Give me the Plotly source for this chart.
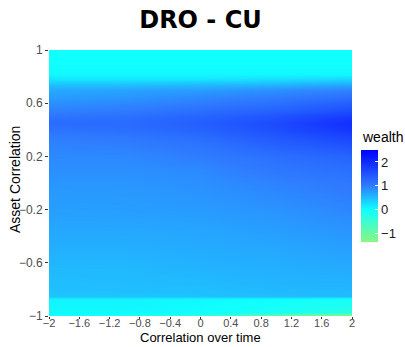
import plotly.graph_objects as go

# x positions (Correlation over time) of the value columns
x_vals = [-2.0, -1.0, 0.0, 1.0, 2.0]
# y positions (Asset Correlation) of the value rows, bottom to top
y_vals = [-1.0, -0.99, -0.97, -0.87, -0.85, -0.8, -0.6, -0.4, -0.2, 0.0, 0.1, 0.2,
          0.3, 0.35, 0.4, 0.45, 0.5, 0.55, 0.6, 0.65, 0.7, 0.74, 0.78, 0.82, 0.9, 1.0]
# wealth values, one row per y value (bottom to top), columns follow x_vals
wealth = [
    [0.0, -0.15, -0.35, -0.85, -1.3],
    [0.0, -0.1, -0.3, -0.8, -1.25],
    [0.05, 0.05, 0.0, -0.1, -0.25],
    [0.08, 0.08, 0.05, 0.0, -0.08],
    [0.45, 0.45, 0.48, 0.5, 0.52],
    [0.48, 0.5, 0.5, 0.55, 0.55],
    [0.55, 0.55, 0.6, 0.62, 0.67],
    [0.65, 0.65, 0.67, 0.72, 0.78],
    [0.73, 0.74, 0.76, 0.82, 0.92],
    [0.8, 0.8, 0.85, 0.95, 1.05],
    [0.85, 0.85, 0.9, 1.05, 1.15],
    [0.9, 0.9, 1.0, 1.15, 1.3],
    [0.95, 1.0, 1.1, 1.35, 1.55],
    [1.0, 1.05, 1.2, 1.45, 1.7],
    [1.1, 1.15, 1.3, 1.55, 1.85],
    [1.2, 1.2, 1.35, 1.6, 1.95],
    [1.1, 1.15, 1.3, 1.5, 1.8],
    [0.95, 1.0, 1.15, 1.3, 1.55],
    [0.85, 0.9, 1.0, 1.15, 1.35],
    [0.75, 0.8, 0.9, 1.0, 1.15],
    [0.65, 0.7, 0.75, 0.85, 0.95],
    [0.5, 0.5, 0.55, 0.6, 0.7],
    [0.2, 0.2, 0.2, 0.25, 0.3],
    [0.05, 0.05, 0.05, 0.05, 0.05],
    [0.0, 0.0, 0.0, 0.0, 0.0],
    [0.0, 0.0, 0.0, 0.0, 0.0],
]
z_min, z_max = -1.35, 2.5
x_ticks = [-2, -1.6, -1.2, -0.8, -0.4, 0, 0.4, 0.8, 1.2, 1.6, 2]
y_ticks = [-1, -0.6, -0.2, 0.2, 0.6, 1]
cb_ticks = [-1, 0, 1, 2]

def pos(v):
    return (v - z_min) / (z_max - z_min)

def fmt(t):
    return ("\u2212" if t < 0 else "") + ("%g" % abs(t))

colorscale = [
    [0.0, "#88f880"],
    [pos(0), "#10ffff"],
    [pos(1), "#2f7cff"],
    [1.0, "#0000ff"],
]

B = 316  # plot bottom in pixels
H = B - 50

fig = go.Figure(go.Heatmap(
    x=x_vals, y=y_vals, z=wealth, zmin=z_min, zmax=z_max,
    colorscale=colorscale, zsmooth="best",
    colorbar=dict(
        x=(361 - 49) / 303, xanchor="left", y=(B - 196) / H, yanchor="middle",
        thickness=17, thicknessmode="pixels", lenmode="pixels", len=92,
        xpad=0, ypad=0,
        tickvals=cb_ticks, ticktext=[fmt(t) for t in cb_ticks],
        ticks="inside", ticklen=3, tickcolor="white",
        tickfont=dict(family="Liberation Sans", size=13, color="#1a1a1a"),
        outlinewidth=0, title=dict(text=""),
    ),
))

axis_font = dict(family="Liberation Sans", size=14, color="black")
fig.update_layout(
    width=405, height=347,
    margin=dict(l=49, r=53, t=50, b=347 - B, autoexpand=False),
    paper_bgcolor="white", plot_bgcolor="white",
    title=dict(text="<b>DRO - CU</b>", x=0.5, xref="paper", xanchor="center",
               y=1 - 20 / 347, yanchor="middle",
               font=dict(family="DejaVu Sans", size=24, color="black")),
    xaxis=dict(range=[-2, 2], tickvals=x_ticks, ticktext=[fmt(t) for t in x_ticks],
               ticks="outside", ticklen=2, tickcolor="#333333", showgrid=False,
               zeroline=False, showline=False, automargin=False, ticklabelstandoff=-5,
               tickfont=dict(family="Liberation Sans", size=11, color="#4d4d4d")),
    yaxis=dict(range=[-1, 1], tickvals=y_ticks, ticktext=[fmt(t) for t in y_ticks],
               ticks="outside", ticklen=3, tickcolor="#333333", showgrid=False,
               zeroline=False, showline=False, automargin=False,
               tickfont=dict(family="Liberation Sans", size=12, color="#4d4d4d")),
    annotations=[
        dict(text="wealth", xref="paper", yref="paper", x=(360 - 49) / 303,
             y=(B - 137) / H, xanchor="left", yanchor="middle", showarrow=False,
             font=axis_font),
        dict(text="Correlation over time", xref="paper", yref="paper", x=0.5,
             y=(B - 347) / H, xanchor="center", yanchor="bottom", showarrow=False,
             font=dict(family="Liberation Sans", size=13, color="black")),
        dict(text="Asset Correlation", xref="paper", yref="paper", x=(15 - 49) / 303,
             y=(B - 180) / H, xanchor="center", yanchor="middle", showarrow=False,
             textangle=-90, font=axis_font),
    ],
)

fig.write_html("out.html")
